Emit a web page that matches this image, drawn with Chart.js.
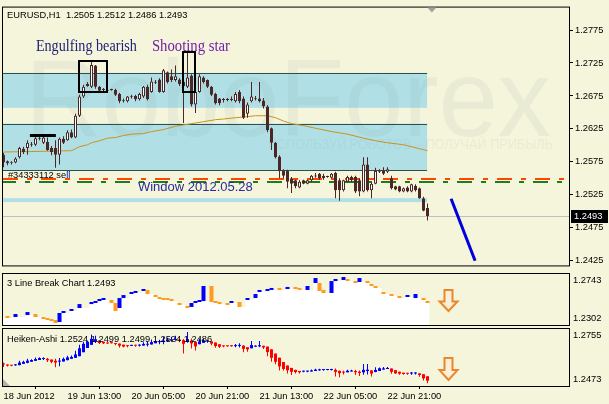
<!DOCTYPE html>
<html lang="es">
<head>
<meta charset="utf-8">
<title>EURUSD H1</title>
<script src="https://cdn.jsdelivr.net/npm/chart.js@4.4.1/dist/chart.umd.min.js"></script>
<style>
    html, body { margin: 0; padding: 0; background: #F5F5DC; }
    body { width: 609px; height: 404px; position: relative; overflow: hidden; }
    canvas { position: absolute; left: 0; }
</style>
</head>
<body>
<canvas id="mainChart" width="609" height="273" style="top:0;width:609px;height:273px"></canvas>
<canvas id="lineBreakChart" width="609" height="56" style="top:272px;width:609px;height:56px"></canvas>
<canvas id="heikenChart" width="609" height="77" style="top:327px;width:609px;height:77px"></canvas>
<script>
// Velas EURUSD H1, una por barra (indice 0 = 18 Jun 21:00)
var opens = [1.2586,1.2576,1.2574,1.2574,1.2582,1.2595,1.2596,1.2602,1.2601,1.2611,
    1.2604,1.2605,1.2596,1.2596,1.2586,1.2610,1.2608,1.2620,1.2612,1.2645,
    1.2674,1.2690,1.2689,1.2721,1.2689,1.2684,1.2684,1.2685,1.2684,1.2678,
    1.2668,1.2667,1.2674,1.2675,1.2670,1.2674,1.2689,1.2681,1.2696,1.2700,
    1.2681,1.2711,1.2705,1.2699,1.2700,1.2696,1.2689,1.2706,1.2662,1.2681,
    1.2703,1.2699,1.2689,1.2678,1.2671,1.2670,1.2669,1.2670,1.2667,1.2681,
    1.2671,1.2648,1.2667,1.2671,1.2671,1.2668,1.2659,1.2626,1.2604,1.2583,
    1.2561,1.2561,1.2550,1.2547,1.2536,1.2547,1.2542,1.2547,1.2554,1.2557,
    1.2554,1.2552,1.2551,1.2558,1.2547,1.2532,1.2545,1.2552,1.2552,1.2547,
    1.2530,1.2571,1.2532,1.2542,1.2561,1.2561,1.2560,1.2550,1.2538,1.2538,
    1.2530,1.2536,1.2530,1.2539,1.2535,1.2520,1.2505];
var highs = [1.2589,1.2577,1.2576,1.2582,1.2598,1.2598,1.2608,1.2605,1.2614,1.2615,
    1.2615,1.2612,1.2599,1.2608,1.2612,1.2614,1.2623,1.2624,1.2648,1.2677,
    1.2692,1.2696,1.2728,1.2722,1.2690,1.2687,1.2686,1.2686,1.2686,1.2680,
    1.2671,1.2675,1.2677,1.2677,1.2680,1.2690,1.2692,1.2703,1.2699,1.2702,
    1.2716,1.2712,1.2715,1.2721,1.2702,1.2706,1.2740,1.2708,1.2683,1.2708,
    1.2705,1.2700,1.2690,1.2680,1.2672,1.2672,1.2672,1.2674,1.2681,1.2684,
    1.2674,1.2665,1.2696,1.2675,1.2696,1.2672,1.2661,1.2627,1.2605,1.2585,
    1.2564,1.2563,1.2552,1.2548,1.2547,1.2548,1.2548,1.2555,1.2558,1.2558,
    1.2557,1.2554,1.2558,1.2560,1.2550,1.2548,1.2554,1.2554,1.2554,1.2550,
    1.2582,1.2582,1.2544,1.2566,1.2564,1.2567,1.2567,1.2554,1.2539,1.2539,
    1.2536,1.2538,1.2542,1.2541,1.2536,1.2522,1.2512];
var lows = [1.2567,1.2570,1.2571,1.2573,1.2580,1.2587,1.2586,1.2598,1.2599,1.2608,
    1.2602,1.2592,1.2585,1.2566,1.2571,1.2602,1.2607,1.2611,1.2611,1.2643,
    1.2672,1.2689,1.2687,1.2686,1.2681,1.2681,1.2681,1.2683,1.2675,1.2664,
    1.2665,1.2665,1.2671,1.2667,1.2668,1.2672,1.2668,1.2680,1.2693,1.2680,
    1.2680,1.2694,1.2696,1.2697,1.2690,1.2634,1.2687,1.2659,1.2649,1.2680,
    1.2694,1.2687,1.2675,1.2662,1.2661,1.2665,1.2667,1.2667,1.2665,1.2664,
    1.2640,1.2642,1.2665,1.2668,1.2665,1.2656,1.2620,1.2593,1.2580,1.2550,
    1.2550,1.2535,1.2528,1.2535,1.2535,1.2541,1.2541,1.2545,1.2551,1.2548,
    1.2548,1.2551,1.2550,1.2520,1.2516,1.2530,1.2544,1.2545,1.2528,1.2523,
    1.2529,1.2530,1.2520,1.2541,1.2558,1.2555,1.2558,1.2533,1.2532,1.2529,
    1.2529,1.2529,1.2529,1.2530,1.2519,1.2500,1.2486];
var closes = [1.2574,1.2573,1.2573,1.2580,1.2596,1.2590,1.2604,1.2601,1.2611,1.2610,
    1.2612,1.2593,1.2590,1.2586,1.2610,1.2604,1.2620,1.2612,1.2645,1.2674,
    1.2689,1.2693,1.2722,1.2689,1.2683,1.2685,1.2683,1.2684,1.2677,1.2667,
    1.2667,1.2674,1.2673,1.2670,1.2678,1.2689,1.2670,1.2697,1.2695,1.2681,
    1.2714,1.2696,1.2699,1.2705,1.2693,1.2690,1.2703,1.2662,1.2681,1.2705,
    1.2696,1.2689,1.2677,1.2664,1.2664,1.2669,1.2670,1.2669,1.2678,1.2667,
    1.2642,1.2662,1.2674,1.2670,1.2667,1.2659,1.2623,1.2604,1.2582,1.2561,
    1.2554,1.2545,1.2542,1.2538,1.2545,1.2542,1.2547,1.2554,1.2553,1.2550,
    1.2550,1.2553,1.2557,1.2532,1.2532,1.2547,1.2552,1.2547,1.2530,1.2530,
    1.2571,1.2532,1.2542,1.2561,1.2560,1.2557,1.2564,1.2535,1.2533,1.2530,
    1.2535,1.2530,1.2541,1.2532,1.2520,1.2501,1.2493];

// Media movil
var maBars = [0,10,17,18,19,21,22,24,26,28,30,32,35,37,40,43,45,48,50,53,55,58,60,63,66,68,70,72,75,78,82,86,90,93,96,100,104,106];
var maValues = [1.2590,1.2591,1.2592,1.2595,1.2598,1.2601,1.2604,1.2607,1.2611,1.2612,
    1.2615,1.2617,1.2618,1.2621,1.2624,1.2629,1.2631,1.2634,1.2636,1.2639,
    1.2640,1.2642,1.2643,1.2645,1.2645,1.2642,1.2637,1.2633,1.2630,1.2626,
    1.2621,1.2617,1.2611,1.2607,1.2604,1.2601,1.2595,1.2592];

// 3 Line Break: barra, maximo, minimo, sentido (1 = sube)
var lbBars = [1,3,6,8,10,11,12,13,14,15,17,19,22,23,24,25,27,28,29,30,32,33,35,36,38,39,40,41,42,44,
    46,47,48,49,50,52,53,54,56,57,59,61,63,64,66,67,69,71,73,74,76,78,79,80,82,83,85,86,88,89,
    91,92,93,95,97,99,101,103,105,106];
var lbHigh = [1.2380,1.2397,1.2414,1.2397,1.2371,1.2362,1.2354,1.2345,1.2406,1.2423,
    1.2440,1.2483,1.2501,1.2509,1.2527,1.2535,1.2518,1.2492,1.2535,1.2561,
    1.2587,1.2596,1.2613,1.2605,1.2561,1.2544,1.2535,1.2535,1.2527,1.2492,
    1.2466,1.2492,1.2509,1.2518,1.2639,1.2639,1.2509,1.2501,1.2492,1.2509,
    1.2501,1.2535,1.2570,1.2605,1.2613,1.2622,1.2622,1.2631,1.2631,1.2622,
    1.2639,1.2708,1.2665,1.2605,1.2682,1.2700,1.2717,1.2700,1.2682,1.2708,
    1.2682,1.2657,1.2639,1.2587,1.2570,1.2553,1.2561,1.2570,1.2535,1.2509];
var lbLow = [1.2362,1.2371,1.2388,1.2371,1.2354,1.2345,1.2336,1.2319,1.2328,1.2406,
    1.2423,1.2449,1.2483,1.2492,1.2509,1.2518,1.2492,1.2423,1.2449,1.2535,
    1.2570,1.2579,1.2596,1.2570,1.2544,1.2527,1.2518,1.2518,1.2509,1.2475,
    1.2449,1.2458,1.2492,1.2501,1.2509,1.2501,1.2492,1.2483,1.2475,1.2492,
    1.2458,1.2518,1.2535,1.2587,1.2596,1.2605,1.2605,1.2613,1.2613,1.2605,
    1.2605,1.2665,1.2596,1.2579,1.2579,1.2682,1.2691,1.2682,1.2665,1.2674,
    1.2665,1.2639,1.2622,1.2570,1.2553,1.2535,1.2544,1.2535,1.2518,1.2492];
var lbUp = [0,1,1,0,0,0,0,0,1,1, 1,1,1,1,1,1,0,0,1,1, 1,1,1,0,0,0,0,0,0,0,
    0,1,1,1,1,0,0,0,0,1, 0,1,1,1,1,1,0,1,0,0, 1,1,0,0,1,1,1,0,0,1,
    0,0,0,0,0,0,1,1,0,0];

// Ejes
var xTickBars = [0, 16, 32, 48, 64, 80, 96];
var xTickLabels = ['18 Jun 2012', '19 Jun 13:00', '20 Jun 05:00', '20 Jun 21:00', '21 Jun 13:00', '22 Jun 05:00', '22 Jun 21:00'];
var mainTicks = [1.2425, 1.2475, 1.2525, 1.2575, 1.2625, 1.2675, 1.2725, 1.2775];
var lbLabels = ['1.2743', '1.2302'];
var haLabels = ['1.2755', '1.2473'];

// Objetos dibujados sobre el grafico
var zoneTop = [1.2710, 1.2633, 1.2520];
var zoneBottom = [1.2657, 1.2562, 1.2514];
var zoneLines = [1.2710, 1.2633, 1.2562];
var zoneEnd = 105.9;
var orderLevels = [1.2549, 1.2545];
var orderColors = ['#FF4500', '#1E7B1E'];
var bidPrice = 1.2493;
var boxLeft = [18.9, 44.8], boxRight = [25.9, 47.9];
var boxTop = [1.2728, 1.2741], boxBottom = [1.2681, 1.2681];
var noteTexts = ['Engulfing bearish', 'Shooting star'];
var noteBars = [8.1, 37.1], notePrice = 1.2743, noteWidths = [101, 78];
var noteColors = ['#1F2277', '#7320A8'];
var trendBars = [111.9, 117.9], trendValues = [1.2519, 1.2425];
var markBars = [6.6, 13.1], markValues = [1.2615, 1.2615];
var arrowBar = 111;

var xMin = -0.125, xMax = 141.375;
var candleColor = '#4B2727';
var smallFont = '9.3px "Liberation Sans", Arial, sans-serif';

// Heiken-Ashi a partir de las velas
var haOpen = [], haClose = [], haHigh = [], haLow = [];
for (var i = 0; i < opens.length; i++) {
    var c = (opens[i] + highs[i] + lows[i] + closes[i]) / 4;
    var o = i === 0 ? (opens[0] + closes[0]) / 2 : (haOpen[i - 1] + haClose[i - 1]) / 2;
    haOpen.push(o);
    haClose.push(c);
    haHigh.push(Math.max(highs[i], o, c));
    haLow.push(Math.min(lows[i], o, c));
}

function points(xs, ys) {
    return xs.map(function (x, k) { return { x: x, y: ys[k] }; });
}

function frame(chart) {
    var ctx = chart.ctx, a = chart.chartArea;
    ctx.save();
    ctx.strokeStyle = '#000';
    ctx.lineWidth = 1;
    ctx.strokeRect(a.left - 0.5, a.top - 0.5, a.right - a.left + 1, a.bottom - a.top + 1);
    ctx.restore();
}

function sideLabels(chart, labels) {
    var ctx = chart.ctx, a = chart.chartArea;
    ctx.save();
    ctx.font = smallFont;
    ctx.fillStyle = '#000';
    ctx.textBaseline = 'middle';
    ctx.fillText(labels[0], a.right + 4, a.top + 6);
    ctx.fillText(labels[1], a.right + 4, a.bottom - 7);
    ctx.restore();
}

function downArrow(chart, top, bottom) {
    var ctx = chart.ctx;
    var cx = Math.round(chart.scales.x.getPixelForValue(arrowBar)) + 0.5;
    var t = chart.scales.y.getPixelForValue(top), b = chart.scales.y.getPixelForValue(bottom);
    var head = (b - t) * 0.45;
    ctx.save();
    ctx.beginPath();
    ctx.moveTo(cx - 4, t);
    ctx.lineTo(cx + 4, t);
    ctx.lineTo(cx + 4, b - head);
    ctx.lineTo(cx + 9, b - head);
    ctx.lineTo(cx, b);
    ctx.lineTo(cx - 9, b - head);
    ctx.lineTo(cx - 4, b - head);
    ctx.closePath();
    ctx.fillStyle = '#FBEFD9';
    ctx.fill();
    ctx.strokeStyle = '#E8872B';
    ctx.lineWidth = 2;
    ctx.stroke();
    ctx.restore();
}

var mainDecor = {
    id: 'mainDecor',
    beforeDatasetsDraw: function (chart) {
        var ctx = chart.ctx, a = chart.chartArea, xs = chart.scales.x, ys = chart.scales.y;
        var zx = xs.getPixelForValue(zoneEnd);
        ctx.save();
        ctx.beginPath();
        ctx.rect(a.left, a.top, a.right - a.left, a.bottom - a.top);
        ctx.clip();
        // zonas
        ctx.fillStyle = '#B0E0E6';
        for (var k = 0; k < zoneTop.length; k++) {
            var t = ys.getPixelForValue(zoneTop[k]), b = ys.getPixelForValue(zoneBottom[k]);
            ctx.fillRect(a.left, t, zx - a.left, b - t);
        }
        // marca de agua
        ctx.fillStyle = 'rgba(110,120,120,0.075)';
        ctx.font = '110px "Liberation Sans", Arial, sans-serif';
        ctx.fillText('RoboForex', a.left + 22, a.top + 128, 526);
        ctx.font = '14px "Liberation Sans", Arial, sans-serif';
        ctx.textAlign = 'right';
        ctx.fillText('ИСПОЛЬЗУЙ РОБОТОВ – ПОЛУЧАЙ ПРИБЫЛЬ', a.left + 550, a.top + 141, 285);
        ctx.textAlign = 'left';
        // bordes de las zonas
        ctx.strokeStyle = '#2F4F4F';
        ctx.lineWidth = 1;
        zoneLines.forEach(function (p) {
            var y = Math.round(ys.getPixelForValue(p)) + 0.5;
            ctx.beginPath();
            ctx.moveTo(a.left, y);
            ctx.lineTo(zx, y);
            ctx.stroke();
        });
        // linea bid
        var by = Math.round(ys.getPixelForValue(bidPrice)) + 0.5;
        ctx.strokeStyle = '#C0C0C0';
        ctx.beginPath();
        ctx.moveTo(a.left, by);
        ctx.lineTo(a.right, by);
        ctx.stroke();
        // ordenes
        ctx.lineWidth = 2;
        ctx.setLineDash([15, 9, 5, 9]);
        orderLevels.forEach(function (p, k) {
            var y = Math.round(ys.getPixelForValue(p));
            ctx.strokeStyle = orderColors[k];
            ctx.lineDashOffset = k * 2;
            ctx.beginPath();
            ctx.moveTo(a.left, y);
            ctx.lineTo(a.right, y);
            ctx.stroke();
        });
        ctx.restore();
    },
    afterDatasetsDraw: function (chart) {
        var ctx = chart.ctx, xs = chart.scales.x, ys = chart.scales.y;
        ctx.save();
        ctx.strokeStyle = '#000';
        ctx.lineWidth = 2;
        for (var k = 0; k < boxLeft.length; k++) {
            var l = Math.round(xs.getPixelForValue(boxLeft[k])), r = Math.round(xs.getPixelForValue(boxRight[k]));
            var t = Math.round(ys.getPixelForValue(boxTop[k])), b = Math.round(ys.getPixelForValue(boxBottom[k]));
            ctx.strokeRect(l, t, r - l, b - t);
        }
        ctx.font = '16px "Liberation Serif", "Times New Roman", serif';
        ctx.textBaseline = 'alphabetic';
        for (k = 0; k < noteTexts.length; k++) {
            ctx.fillStyle = noteColors[k];
            ctx.fillText(noteTexts[k], xs.getPixelForValue(noteBars[k]), ys.getPixelForValue(notePrice), noteWidths[k]);
        }
        ctx.font = '13px "Liberation Sans", Arial, sans-serif';
        ctx.fillStyle = '#2B2B99';
        ctx.textBaseline = 'middle';
        ctx.fillText('Window 2012.05.28', xs.getPixelForValue(33.6), ys.getPixelForValue(1.2536));
        ctx.font = smallFont;
        ctx.fillStyle = '#000';
        ctx.fillText('#34333112 sell', xs.getPixelForValue(1.1), ys.getPixelForValue(1.2554));
        ctx.fillStyle = '#3366FF';
        ctx.fillRect(Math.round(xs.getPixelForValue(15.9)), Math.round(ys.getPixelForValue(1.2559)), 1, 6);
        ctx.fillRect(Math.round(xs.getPixelForValue(16.4)), Math.round(ys.getPixelForValue(1.2559)), 1, 6);
        ctx.restore();
    },
    afterDraw: function (chart) {
        var ctx = chart.ctx, a = chart.chartArea, xs = chart.scales.x, ys = chart.scales.y;
        frame(chart);
        ctx.save();
        ctx.font = smallFont;
        ctx.fillStyle = '#000';
        ctx.textBaseline = 'middle';
        ctx.fillText('EURUSD,H1  1.2505 1.2512 1.2486 1.2493', a.left + 4, a.top + 8);
        // etiqueta del precio actual
        var by = Math.round(ys.getPixelForValue(bidPrice));
        ctx.fillRect(a.right + 2, by - 6, 37, 13);
        ctx.fillStyle = '#fff';
        ctx.fillText(bidPrice.toFixed(4), a.right + 5, by + 0.5);
        // marcador de desplazamiento
        var sx = xs.getPixelForValue(107.1);
        ctx.fillStyle = '#A0A0A0';
        ctx.beginPath();
        ctx.moveTo(sx - 4.5, a.top);
        ctx.lineTo(sx + 4.5, a.top);
        ctx.lineTo(sx, a.top + 5);
        ctx.closePath();
        ctx.fill();
        ctx.restore();
    }
};

var lbDecor = {
    id: 'lbDecor',
    afterDraw: function (chart) {
        var ctx = chart.ctx, a = chart.chartArea;
        frame(chart);
        ctx.save();
        ctx.font = smallFont;
        ctx.fillStyle = '#000';
        ctx.textBaseline = 'middle';
        ctx.fillText('3 Line Break Chart 1.2493', a.left + 4, a.top + 9);
        ctx.restore();
        sideLabels(chart, lbLabels);
        downArrow(chart, 1.2605, 1.2423);
    }
};

var haDecor = {
    id: 'haDecor',
    afterDraw: function (chart) {
        var ctx = chart.ctx, a = chart.chartArea;
        frame(chart);
        ctx.save();
        ctx.font = smallFont;
        ctx.fillStyle = '#000';
        ctx.textBaseline = 'middle';
        ctx.fillText('Heiken-Ashi 1.2524 1.2499 1.2499 1.2524 1.2486', a.left + 4, a.top + 10);
        ctx.fillStyle = '#B0B0B0';
        ctx.beginPath();
        ctx.moveTo(a.left, a.bottom);
        ctx.lineTo(a.left + 7, a.bottom);
        ctx.lineTo(a.left, a.bottom - 7);
        ctx.closePath();
        ctx.fill();
        ctx.restore();
        sideLabels(chart, haLabels);
        downArrow(chart, 1.2611, 1.2503);
    }
};

function hiddenX() {
    return { type: 'linear', min: xMin, max: xMax, display: false, offset: false };
}

function baseOptions(padding, scales) {
    return {
        responsive: false,
        animation: false,
        events: [],
        layout: { padding: padding },
        plugins: { legend: { display: false }, tooltip: { enabled: false } },
        datasets: { bar: { grouped: false, inflateAmount: 0 } },
        scales: scales
    };
}

// Grafico principal
new Chart(document.getElementById('mainChart'), {
    type: 'bar',
    data: {
        datasets: [
            { type: 'line', data: points(trendBars, trendValues), borderColor: '#0000DD', borderWidth: 3, pointRadius: 0, order: 0 },
            { type: 'line', data: points(markBars, markValues), borderColor: '#000', borderWidth: 3, pointRadius: 0, order: 0 },
            {
                data: opens.map(function (o, k) { return { x: k, y: [o, closes[k]] }; }),
                backgroundColor: opens.map(function (o, k) { return closes[k] > o ? '#FFFFFF' : candleColor; }),
                borderColor: candleColor, borderWidth: 1, borderSkipped: false,
                barThickness: 3, minBarLength: 1, order: 1
            },
            {
                data: lows.map(function (l, k) { return { x: k, y: [l, highs[k]] }; }),
                backgroundColor: candleColor, barThickness: 1, minBarLength: 1, order: 2
            },
            { type: 'line', data: points(maBars, maValues), borderColor: '#C9921F', borderWidth: 1, pointRadius: 0, order: 3 }
        ]
    },
    options: baseOptions({ left: 3, top: 3, right: 0, bottom: 3 }, {
        x: hiddenX(),
        y: {
            type: 'linear', position: 'right', min: 1.2418, max: 1.2809, bounds: 'data',
            afterBuildTicks: function (s) { s.ticks = mainTicks.map(function (v) { return { value: v }; }); },
            afterFit: function (s) { s.width = 40; },
            ticks: {
                autoSkip: false, padding: 2, color: '#000',
                font: { family: 'Liberation Sans', size: 9.3 },
                callback: function (v) { return v.toFixed(4); }
            },
            grid: { drawOnChartArea: false, drawTicks: true, tickLength: 4, color: '#000' },
            border: { display: false }
        }
    }),
    plugins: [mainDecor]
});

// 3 Line Break
var lbFill = [{ x: xMin, y: lbLow[0] }].concat(lbBars.map(function (b, k) { return { x: b - 0.5, y: lbLow[k] }; }));
lbFill.push({ x: lbBars[lbBars.length - 1] + 0.5, y: lbLow[lbLow.length - 1] });
new Chart(document.getElementById('lineBreakChart'), {
    type: 'bar',
    data: {
        datasets: [
            {
                data: lbBars.map(function (b, k) { return { x: b, y: [lbLow[k], lbHigh[k]] }; }),
                backgroundColor: lbUp.map(function (u) { return u ? '#0000FF' : '#FF9B21'; }),
                barThickness: 4, minBarLength: 2, order: 1
            },
            { type: 'line', data: lbFill, stepped: true, fill: 'start', backgroundColor: '#FFFFFF', borderWidth: 0, pointRadius: 0, order: 2 }
        ]
    },
    options: baseOptions({ left: 3, top: 2, right: 40, bottom: 3 }, {
        x: hiddenX(),
        y: { type: 'linear', min: 1.2302, max: 1.2743, display: false }
    }),
    plugins: [lbDecor]
});

// Heiken-Ashi
var haColors = haOpen.map(function (o, k) { return haClose[k] >= o ? '#0000FF' : '#FF0000'; });
new Chart(document.getElementById('heikenChart'), {
    type: 'bar',
    data: {
        datasets: [
            {
                data: haOpen.map(function (o, k) { return { x: k, y: [o, haClose[k]] }; }),
                backgroundColor: haColors, barThickness: 3, minBarLength: 1, order: 1
            },
            {
                data: haLow.map(function (l, k) { return { x: k, y: [l, haHigh[k]] }; }),
                backgroundColor: haColors, barThickness: 1, minBarLength: 1, order: 2
            }
        ]
    },
    options: baseOptions({ left: 3, top: 2, right: 40, bottom: 0 }, {
        x: {
            type: 'linear', min: xMin, max: xMax, offset: false,
            afterBuildTicks: function (s) { s.ticks = xTickBars.map(function (v) { return { value: v }; }); },
            afterFit: function (s) { s.height = 18; },
            ticks: {
                autoSkip: false, maxRotation: 0, align: 'start', padding: 2, color: '#000',
                font: { family: 'Liberation Sans', size: 9.3 },
                callback: function (v, k) { return xTickLabels[k]; }
            },
            grid: { drawOnChartArea: false, drawTicks: true, tickLength: 3, color: '#000' },
            border: { display: false }
        },
        y: { type: 'linear', min: 1.2473, max: 1.2755, display: false }
    }),
    plugins: [haDecor]
});
</script>
</body>
</html>
